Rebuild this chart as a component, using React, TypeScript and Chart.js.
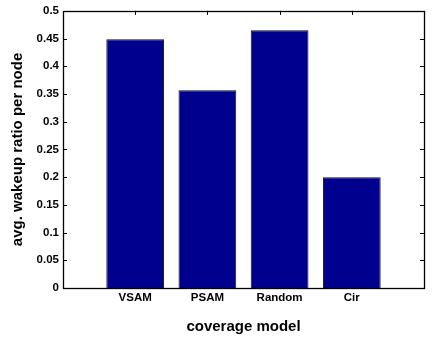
import React, { useEffect, useRef } from "react";
import { Chart, registerables } from "chart.js";

Chart.register(...registerables);

const categories = ["", "VSAM", "PSAM", "Random", "Cir", ""];
const wakeupRatio = [null, 0.449, 0.357, 0.465, 0.2, null];
const yTicks = [0, 0.05, 0.1, 0.15, 0.2, 0.25, 0.3, 0.35, 0.4, 0.45, 0.5];
const xTickIndices = [1, 2, 3, 4];
const yTitle = "avg. wakeup ratio per node";
const xTitle = "coverage model";

const FONT = "'Liberation Sans', Arial, Helvetica, sans-serif";

const boxPlugin = {
  id: "matlabBox",
  beforeDatasetsDraw(chart: any) {
    const { ctx, chartArea, scales } = chart;
    const { left, right, top, bottom } = chartArea;
    const len = 4;
    ctx.save();
    ctx.strokeStyle = "#000";
    ctx.lineWidth = 1;
    ctx.beginPath();
    yTicks.forEach((v) => {
      const y = Math.round(scales.y.getPixelForValue(v)) + 0.5;
      ctx.moveTo(left, y);
      ctx.lineTo(left + len, y);
      ctx.moveTo(right, y);
      ctx.lineTo(right - len, y);
    });
    xTickIndices.forEach((i) => {
      const x = Math.round(scales.x.getPixelForValue(i)) + 0.5;
      ctx.moveTo(x, top);
      ctx.lineTo(x, top + len);
      ctx.moveTo(x, bottom);
      ctx.lineTo(x, bottom - len);
    });
    ctx.stroke();
    ctx.restore();
  },
  afterDatasetsDraw(chart: any) {
    const { ctx, chartArea } = chart;
    const { left, right, top, bottom } = chartArea;
    ctx.save();
    ctx.strokeStyle = "#000";
    ctx.lineWidth = 1.3;
    ctx.strokeRect(
      Math.round(left) + 0.5,
      Math.round(top) + 0.5,
      Math.round(right - left),
      Math.round(bottom - top)
    );
    ctx.restore();
  },
};

export default function App() {
  const ref = useRef<HTMLCanvasElement | null>(null);

  useEffect(() => {
    if (!ref.current) return;
    Chart.defaults.font.family = FONT;
    const chart = new Chart(ref.current, {
      type: "bar",
      data: {
        labels: categories,
        datasets: [
          {
            data: wakeupRatio as any,
            backgroundColor: "#00008F",
            borderColor: "#111",
            borderWidth: 1,
            categoryPercentage: 1,
            barPercentage: 0.8,
          },
        ],
      },
      options: {
        responsive: false,
        animation: false,
        layout: { padding: { top: 10, right: 8, left: 0, bottom: 0 } },
        plugins: {
          legend: { display: false },
          tooltip: { enabled: false },
        },
        scales: {
          x: {
            type: "category",
            offset: false,
            grid: { display: false, drawTicks: false },
            border: { display: false },
            ticks: {
              autoSkip: false,
              maxRotation: 0,
              padding: 3,
              color: "#000",
              font: { size: 11.5, weight: "bold", family: FONT },
            },
            title: {
              display: true,
              text: xTitle,
              color: "#000",
              font: { size: 15, weight: "bold", family: FONT },
              padding: { top: 0, bottom: 3 },
            },
            afterFit(scale: any) {
              scale.height = 51;
            },
          },
          y: {
            min: 0,
            max: 0.5,
            grid: { display: false, drawTicks: false },
            border: { display: false },
            afterBuildTicks(scale: any) {
              scale.ticks = yTicks.map((v) => ({ value: v }));
            },
            ticks: {
              padding: 4,
              color: "#000",
              font: { size: 11.5, weight: "bold", family: FONT },
              callback: (v: any) => String(+Number(v).toFixed(2)),
            },
            title: {
              display: true,
              text: yTitle,
              color: "#000",
              font: { size: 15, weight: "bold", family: FONT },
              padding: { top: 9, bottom: 0 },
            },
            afterFit(scale: any) {
              scale.width = 63;
            },
          },
        },
      },
      plugins: [boxPlugin],
    });
    return () => chart.destroy();
  }, []);

  return (
    <div style={{ position: "fixed", left: 0, top: 0, width: 432, height: 339, background: "#fff" }}>
      <canvas ref={ref} width={432} height={339} style={{ display: "block" }} />
    </div>
  );
}
